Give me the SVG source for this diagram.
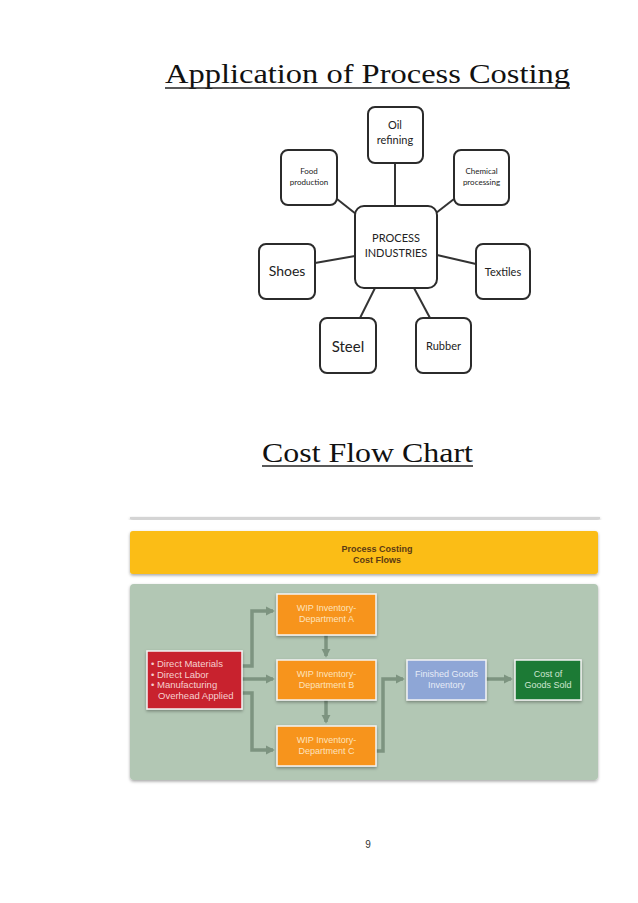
<svg xmlns="http://www.w3.org/2000/svg" width="638" height="903" viewBox="0 0 638 903">
<defs>
<style>
.title{font-family:"Liberation Serif",serif;font-size:27px;fill:#111}
.ul{stroke:#222;stroke-width:1.6}
.nb{fill:#fff;stroke:#2b2b2b;stroke-width:2}
.nt{font-family:"Lato","Liberation Sans",sans-serif;fill:#222;text-anchor:middle}
.lk{stroke:#333;stroke-width:2;fill:none}
.ct{font-family:"Liberation Sans",sans-serif;font-size:9px;text-anchor:middle}
.fl{stroke:#7d9480;stroke-width:3.5;fill:none}
.bx{stroke:#f4f4f4;stroke-width:1.5}
</style>
<marker id="ah" viewBox="0 0 10 10" refX="8" refY="5" markerWidth="2.6" markerHeight="2.6" orient="auto" markerUnits="strokeWidth">
<path d="M0,0 L10,5 L0,10 z" fill="#7d9480"/>
</marker>
<filter id="sh" x="-5%" y="-10%" width="110%" height="125%">
<feDropShadow dx="0" dy="1.5" stdDeviation="1.5" flood-color="#000" flood-opacity="0.35"/>
</filter>
</defs>
<rect width="638" height="903" fill="#fff"/>

<text class="title" x="165" y="83" textLength="405" lengthAdjust="spacingAndGlyphs">Application of Process Costing</text>
<line class="ul" x1="165" y1="88" x2="570" y2="88"/>

<g id="connectors-top">
<line class="lk" x1="395" y1="163" x2="395" y2="206"/>
<line class="lk" x1="337" y1="199" x2="356" y2="214"/>
<line class="lk" x1="454" y1="199" x2="436" y2="213"/>
<line class="lk" x1="315" y1="263" x2="355" y2="256"/>
<line class="lk" x1="437" y1="255" x2="476" y2="264"/>
<line class="lk" x1="360" y1="318" x2="375" y2="288"/>
<line class="lk" x1="430" y1="318" x2="414" y2="288"/>
</g>

<g id="n-center"><rect class="nb" x="355" y="206" width="82" height="82" rx="9"/>
<text class="nt" x="396" y="242" font-size="11">PROCESS</text><text class="nt" x="396" y="257" font-size="11">INDUSTRIES</text></g>
<g id="n-oil"><rect class="nb" x="368" y="107" width="55" height="56" rx="7"/>
<text class="nt" x="395" y="129" font-size="11">Oil</text><text class="nt" x="395" y="144" font-size="11">refining</text></g>
<g id="n-food"><rect class="nb" x="281" y="150" width="56" height="55" rx="7"/>
<text class="nt" x="309" y="174" font-size="8">Food</text><text class="nt" x="309" y="185" font-size="8">production</text></g>
<g id="n-chem"><rect class="nb" x="454" y="150" width="55" height="55" rx="7"/>
<text class="nt" x="481.5" y="174" font-size="8">Chemical</text><text class="nt" x="481.5" y="185" font-size="8">processing</text></g>
<g id="n-shoes"><rect class="nb" x="259" y="244" width="56" height="55" rx="7"/>
<text class="nt" x="287" y="276" font-size="14">Shoes</text></g>
<g id="n-textiles"><rect class="nb" x="476" y="244" width="54" height="55" rx="7"/>
<text class="nt" x="503" y="276" font-size="11">Textiles</text></g>
<g id="n-steel"><rect class="nb" x="320" y="318" width="56" height="55" rx="7"/>
<text class="nt" x="348" y="352" font-size="15">Steel</text></g>
<g id="n-rubber"><rect class="nb" x="416" y="318" width="55" height="55" rx="7"/>
<text class="nt" x="443.5" y="350" font-size="11">Rubber</text></g>

<text class="title" x="262" y="462" textLength="211" lengthAdjust="spacingAndGlyphs">Cost Flow Chart</text>
<line class="ul" x1="262" y1="466" x2="473" y2="466"/>

<g id="chart">
<rect x="130" y="517" width="470" height="2" fill="#d4d4d4" filter="url(#sh)"/>
<rect x="130" y="531" width="468" height="43" rx="3" fill="#fbbd16" filter="url(#sh)"/>
<text class="ct" x="377" y="552" font-weight="bold" fill="#5b3a14">Process Costing</text>
<text class="ct" x="377" y="563" font-weight="bold" fill="#5b3a14">Cost Flows</text>
<rect x="130" y="584" width="468" height="196" rx="4" fill="#b2c7b4" filter="url(#sh)"/>
</g>

<g id="connectors-flow">
<path class="fl" d="M242,666 H252 V611 H273" marker-end="url(#ah)"/>
<path class="fl" d="M242,679 H273" marker-end="url(#ah)"/>
<path class="fl" d="M242,693 H252 V750 H273" marker-end="url(#ah)"/>
<path class="fl" d="M326,635 V656" marker-end="url(#ah)"/>
<path class="fl" d="M326,700 V722" marker-end="url(#ah)"/>
<path class="fl" d="M376,751 H383 V679 H403" marker-end="url(#ah)"/>
<path class="fl" d="M486,679 H511" marker-end="url(#ah)"/>
</g>

<g id="n-inputs"><rect class="bx" x="147" y="651" width="95" height="58" fill="#c8222e" filter="url(#sh)"/>
<g font-family="Liberation Sans,sans-serif" font-size="9.5" fill="#f6d0cf">
<text x="151" y="667">• Direct Materials</text>
<text x="151" y="678">• Direct Labor</text>
<text x="151" y="688">• Manufacturing</text>
<text x="158" y="699">Overhead Applied</text></g></g>
<g id="n-wipa"><rect class="bx" x="277" y="594" width="99" height="41" fill="#f7941e" filter="url(#sh)"/>
<text class="ct" x="326.5" y="611" fill="#fde3bd">WIP Inventory-</text><text class="ct" x="326.5" y="622" fill="#fde3bd">Department A</text></g>
<g id="n-wipb"><rect class="bx" x="277" y="660" width="99" height="40" fill="#f7941e" filter="url(#sh)"/>
<text class="ct" x="326.5" y="677" fill="#fde3bd">WIP Inventory-</text><text class="ct" x="326.5" y="688" fill="#fde3bd">Department B</text></g>
<g id="n-wipc"><rect class="bx" x="277" y="726" width="99" height="40" fill="#f7941e" filter="url(#sh)"/>
<text class="ct" x="326.5" y="743" fill="#fde3bd">WIP Inventory-</text><text class="ct" x="326.5" y="754" fill="#fde3bd">Department C</text></g>
<g id="n-fg"><rect class="bx" x="407" y="660" width="79" height="40" fill="#8ea6d6" filter="url(#sh)"/>
<text class="ct" x="446.5" y="677" fill="#e6ecf7">Finished Goods</text><text class="ct" x="446.5" y="688" fill="#e6ecf7">Inventory</text></g>
<g id="n-cogs"><rect class="bx" x="515" y="660" width="66" height="40" fill="#1f7a36" filter="url(#sh)"/>
<text class="ct" x="548" y="677" fill="#cfe6d2">Cost of</text><text class="ct" x="548" y="688" fill="#cfe6d2">Goods Sold</text></g>

<text x="368" y="848" font-family="Liberation Sans,sans-serif" font-size="10" fill="#333" text-anchor="middle">9</text>
</svg>
